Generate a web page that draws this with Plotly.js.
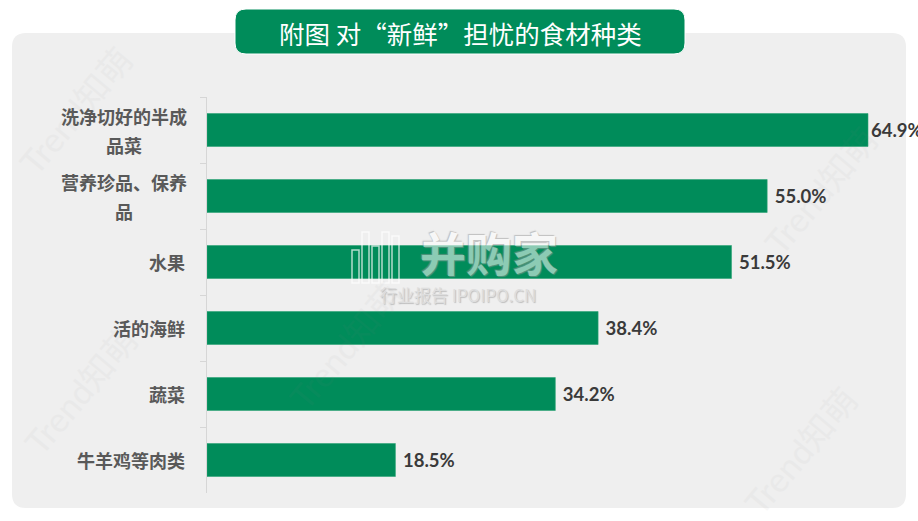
<!DOCTYPE html>
<html><head><meta charset="utf-8">
<script src="https://cdn.plot.ly/plotly-3.0.1.min.js"></script>
<style>html,body{margin:0;padding:0;background:#fff;}#chart{width:918px;height:521px;}</style>
</head><body><div id="chart"></div>
<script>
const categories = ["洗净切好的半成品菜", "营养珍品、保养品", "水果", "活的海鲜", "蔬菜", "牛羊鸡等肉类"];
const categoryLines = [["洗净切好的半成", "品菜"], ["营养珍品、保养", "品"], ["水果"], ["活的海鲜"], ["蔬菜"], ["牛羊鸡等肉类"]];
const values = [64.9, 55.0, 51.5, 38.4, 34.2, 18.5];
const titleText = "附图 对“新鲜”担忧的食材种类";

const W = 918, H = 521;
const M = {l: 207, r: 18, t: 97, b: 28};
const PW = W - M.l - M.r, PH = H - M.t - M.b;
const px = x => (x - M.l) / PW;
const py = y => 1 - (y - M.t) / PH;
function roundRect(x0, y0, x1, y1, r) {
  const rx = r / PW, ry = r / PH;
  const a = px(x0), b = px(x1), c = py(y0), d = py(y1);
  return `M ${a+rx} ${c} L ${b-rx} ${c} Q ${b} ${c} ${b} ${c-ry} L ${b} ${d+ry} Q ${b} ${d} ${b-rx} ${d} L ${a+rx} ${d} Q ${a} ${d} ${a} ${d+ry} L ${a} ${c-ry} Q ${a} ${c} ${a+rx} ${c} Z`;
}
const maxV = Math.max(...values);

const trace = {
  type: 'bar', orientation: 'h',
  y: categories, x: values,
  width: 0.5,
  marker: {color: '#008C5A', line: {color: '#2fa477', width: 0.6}},
  text: values.map(v => (v === maxV ? '' : '\u00a0') + v.toFixed(1) + '%'),
  textposition: 'outside',
  textfont: {family: 'Lato, "Noto Sans CJK SC", sans-serif', size: 18.5, color: '#3a3a3a', weight: 'bold'},
  cliponaxis: false,
  constraintext: 'none',
  hoverinfo: 'none'
};

const labelFont = {family: '"Noto Sans CJK SC", sans-serif', size: 18, color: '#595959', weight: 'bold'};
const annotations = [];
categories.forEach((c, i) => {
  const lines = categoryLines[i];
  if (lines.length === 1) {
    annotations.push({xref: 'paper', yref: 'y', x: px(187), y: c, xanchor: 'right', yanchor: 'middle',
      text: lines[0], showarrow: false, font: labelFont});
  } else {
    const cx = 187 - lines[0].length * 18 / 2;
    lines.forEach((ln, k) => {
      annotations.push({xref: 'paper', yref: 'y', x: px(cx), y: c, xanchor: 'center', yanchor: 'middle',
        yshift: k === 0 ? 14.5 : -14.5, text: ln, showarrow: false, font: labelFont});
    });
  }
});
annotations.push({
  xref: 'paper', yref: 'paper', x: px(460), y: py(32), xanchor: 'center', yanchor: 'middle',
  text: titleText, showarrow: false,
  font: {family: '"Noto Sans CJK SC", sans-serif', size: 25.5, color: '#ffffff'}
});
// watermarks
annotations.push({
  xref: 'paper', yref: 'paper', x: px(489), y: py(251), xanchor: 'center', yanchor: 'middle',
  text: '并购家', showarrow: false, opacity: 0.55, borderpad: 0,
  font: {family: '"Noto Sans CJK SC", sans-serif', size: 46, color: '#ffffff', weight: 'bold',
         shadow: '1px 1px 1px #999, -1px -1px 1px #999'}
});
annotations.push({
  xref: 'paper', yref: 'paper', x: px(458), y: py(294), xanchor: 'center', yanchor: 'middle',
  text: '行业报告 IPOIPO.CN', showarrow: false, opacity: 0.7, borderpad: 0,
  font: {family: '"Noto Sans CJK SC", sans-serif', size: 17, color: '#d8d8d8',
         shadow: '1px 1px 1px #aaa'}
});
[[75, 110], [345, 345], [820, 190], [80, 390], [800, 450]].forEach(p => {
  annotations.push({
    xref: 'paper', yref: 'paper', x: px(p[0]), y: py(p[1]), xanchor: 'center', yanchor: 'middle',
    text: 'Trend知萌', showarrow: false, textangle: -50, opacity: 0.05,
    font: {family: 'Lato, "Noto Sans CJK SC", sans-serif', size: 34, color: '#888888'}
  });
});

// watermark chart icon (decorative)
const iconShapes = [];
[[352, 250, 359, 283], [362, 232, 369, 283], [372, 246, 379, 283], [382, 232, 389, 283], [392, 236, 399, 283]].forEach(r => {
  iconShapes.push({type: 'rect', xref: 'paper', yref: 'paper', x0: px(r[0]), x1: px(r[2]), y0: py(r[3]), y1: py(r[1]),
    line: {color: 'rgba(255,255,255,0.7)', width: 1.5}, fillcolor: 'rgba(0,0,0,0)', layer: 'above'});
});

const layout = {
  width: W, height: H,
  margin: M,
  paper_bgcolor: '#ffffff', plot_bgcolor: 'rgba(0,0,0,0)',
  showlegend: false,
  xaxis: {range: [0, PW / (661 / 64.9)], visible: false, fixedrange: true},
  yaxis: {
    type: 'category', autorange: 'reversed', showticklabels: false,
    showline: true, linecolor: '#d6d6d6', linewidth: 1,
    ticks: 'outside', tickson: 'boundaries', ticklen: 6, tickcolor: '#d6d6d6',
    showgrid: false, zeroline: false, fixedrange: true
  },
  shapes: [
    {type: 'path', xref: 'paper', yref: 'paper', path: roundRect(12, 33, 906, 508, 14),
     fillcolor: '#efefef', line: {width: 0}, layer: 'below'},
    {type: 'path', xref: 'paper', yref: 'paper', path: roundRect(235, 9, 685, 54, 11),
     fillcolor: '#008C5A', line: {color: '#ffffff', width: 1}, layer: 'above'}
  ].concat(iconShapes),
  annotations: annotations
};

Plotly.newPlot('chart', [trace], layout, {displayModeBar: false, staticPlot: true});
</script></body></html>
